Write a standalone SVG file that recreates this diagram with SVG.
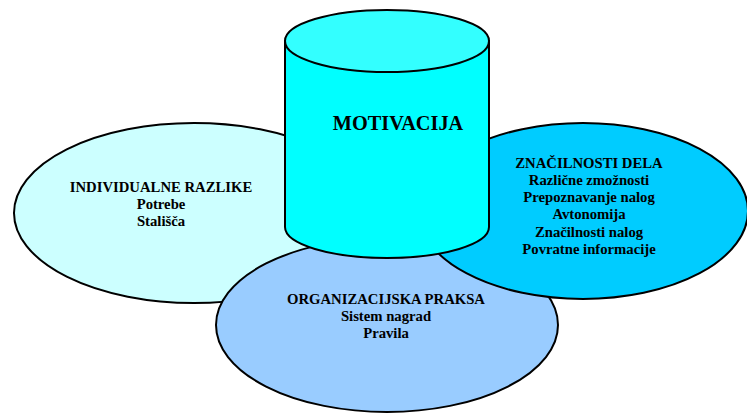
<svg xmlns="http://www.w3.org/2000/svg" width="747" height="413" viewBox="0 0 747 413">
<style>
.sh{stroke:#000;stroke-width:2}
.t{font-family:"Liberation Serif","Times New Roman",serif;font-weight:bold;font-size:14.7px;text-anchor:middle;fill:#000}
.big{font-size:20.3px}
</style>
<rect width="747" height="413" fill="#fff"/>
<g id="individualne">
<ellipse class="sh" cx="194" cy="213" rx="180" ry="90" fill="#CCFFFF"/>
<text class="t" x="161" y="192">INDIVIDUALNE RAZLIKE</text>
<text class="t" x="161" y="209">Potrebe</text>
<text class="t" x="161" y="226">Stališča</text>
</g>
<g id="organizacijska">
<ellipse class="sh" cx="387" cy="325" rx="171" ry="87" fill="#99CCFF"/>
<text class="t" x="386" y="304">ORGANIZACIJSKA PRAKSA</text>
<text class="t" x="386" y="321">Sistem nagrad</text>
<text class="t" x="386" y="338">Pravila</text>
</g>
<g id="znacilnosti">
<ellipse class="sh" cx="583" cy="211" rx="165" ry="88" fill="#00CCFF"/>
<text class="t" x="589" y="168">ZNAČILNOSTI DELA</text>
<text class="t" x="589" y="185">Različne zmožnosti</text>
<text class="t" x="589" y="202">Prepoznavanje nalog</text>
<text class="t" x="589" y="219">Avtonomija</text>
<text class="t" x="589" y="237">Značilnosti nalog</text>
<text class="t" x="589" y="254">Povratne informacije</text>
</g>
<g id="motivacija">
<path class="sh" d="M285,41 L285,227 A102,31 0 0 0 489,227 L489,41 Z" fill="#00FFFF"/>
<ellipse class="sh" cx="387" cy="41" rx="102" ry="31" fill="#33FFFF"/>
<text class="t big" x="398" y="130">MOTIVACIJA</text>
</g>
<g id="connectors"/>
</svg>
